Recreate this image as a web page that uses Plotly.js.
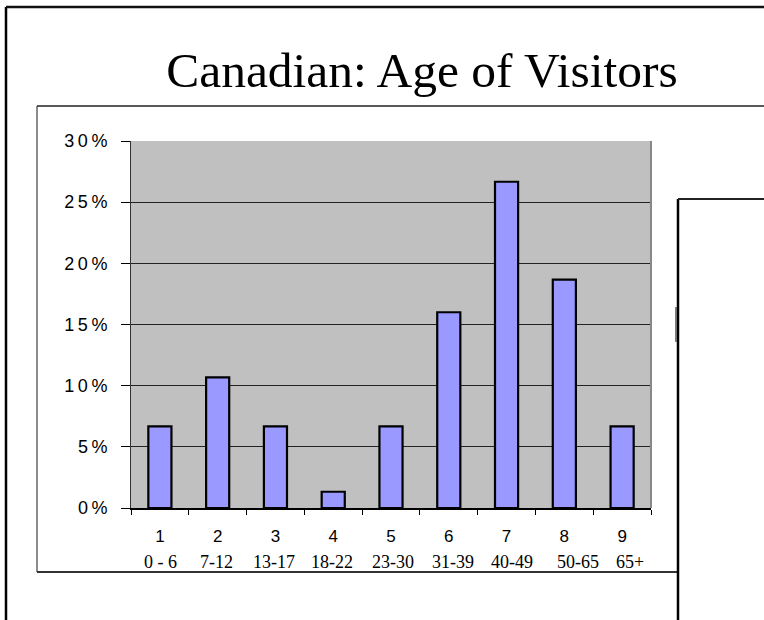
<!DOCTYPE html>
<html>
<head>
<meta charset="utf-8">
<script src="https://cdn.plot.ly/plotly-3.0.1.min.js"></script>
<style>
html,body{margin:0;padding:0;background:#fff;}
#chart{width:764px;height:620px;}
.ytick text{letter-spacing:3.5px;}
</style>
</head>
<body>
<div id="chart"></div>
<script>
// ---- data ----
var categories = ["1", "2", "3", "4", "5", "6", "7", "8", "9"];
var ageRanges = ["0 - 6", "7-12", "13-17", "18-22", "23-30", "31-39", "40-49", "50-65", "65+"];
var shares = [0.0667, 0.1067, 0.0667, 0.0133, 0.0667, 0.16, 0.2667, 0.1867, 0.0667];
var titleText = "Canadian: Age of Visitors";

// ---- layout geometry (pixels) ----
var W = 764, H = 620;
var mL = 131, mR = 113, mT = 141, mB = 112;
var pw = W - mL - mR, ph = H - mT - mB;
// small horizontal nudges of the age-range captions (as in the original text box)
var rangeLabelNudge = [1, -1, -1.5, -1, 2, 4, 5, 14, 8];
function px(x) { return (x - mL) / pw; }
function py(y) { return (H - mB - y) / ph; }
function seg(x0, y0, x1, y1, color, w) {
  return {type: 'line', xref: 'paper', yref: 'paper',
    x0: px(x0), y0: py(y0), x1: px(x1), y1: py(y1),
    line: {color: color, width: w}, layer: 'above'};
}

var shapes = [
  // outer frame
  seg(6, 7, 6, 620, '#000', 2.5),
  seg(6, 7, 764, 7, '#111', 2.5),
  // inner chart box
  seg(37, 106, 37, 572, '#666', 1.5),
  seg(37, 106, 764, 106, '#222', 1.5),
  seg(37, 572, 678, 572, '#333', 2),
  // right box
  seg(678, 199, 678, 620, '#000', 2.5),
  seg(678, 199, 764, 199, '#222', 2),
  seg(676, 307, 676, 342, '#555', 1.5),
  // plot area right border
  {type: 'line', xref: 'paper', yref: 'paper', x0: 1, x1: 1, y0: 0, y1: 1,
   line: {color: '#888', width: 2}, layer: 'above'}
];

var annotations = ageRanges.map(function (r, i) {
  return {x: i, y: 0, xref: 'x', yref: 'y', text: r,
    showarrow: false, yanchor: 'middle', xanchor: 'center', yshift: -54,
    xshift: rangeLabelNudge[i],
    font: {family: 'Liberation Serif, Times New Roman, serif', size: 18, color: '#000'}};
});

var trace = {
  type: 'bar', x: categories, y: shares,
  marker: {color: '#9999FF', line: {color: '#000', width: 2.2}},
  hoverinfo: 'none'
};

var layout = {
  width: W, height: H,
  margin: {l: mL, r: mR, t: mT, b: mB, pad: 0},
  paper_bgcolor: '#fff', plot_bgcolor: '#C0C0C0',
  showlegend: false,
  bargap: 0.6,
  title: {text: titleText, xref: 'container', yref: 'container',
    x: 422 / W, xanchor: 'center', y: 1 - 70 / H, yanchor: 'middle',
    font: {family: 'Liberation Serif, Times New Roman, serif', size: 49.5, color: '#000'}},
  xaxis: {type: 'category', range: [-0.5, 8.5], showgrid: false, zeroline: false,
    showline: true, linecolor: '#000', linewidth: 1.5,
    ticks: 'outside', tickson: 'boundaries', ticklen: 5, tickcolor: '#000', tickwidth: 1,
    ticklabelstandoff: 12,
    tickfont: {family: 'Liberation Sans, Arial, sans-serif', size: 17, color: '#000'}},
  yaxis: {range: [0, 0.3], dtick: 0.05, tickformat: '.0%', showgrid: true,
    gridcolor: '#222', gridwidth: 1, zeroline: false,
    showline: true, linecolor: '#333', linewidth: 1.5,
    ticks: 'outside', ticklen: 9, tickcolor: '#000', tickwidth: 1,
    ticklabelstandoff: 6,
    tickfont: {family: 'Liberation Sans, Arial, sans-serif', size: 18, color: '#000'}},
  shapes: shapes,
  annotations: annotations
};

Plotly.newPlot('chart', [trace], layout, {staticPlot: true, displayModeBar: false});
</script>
</body>
</html>
